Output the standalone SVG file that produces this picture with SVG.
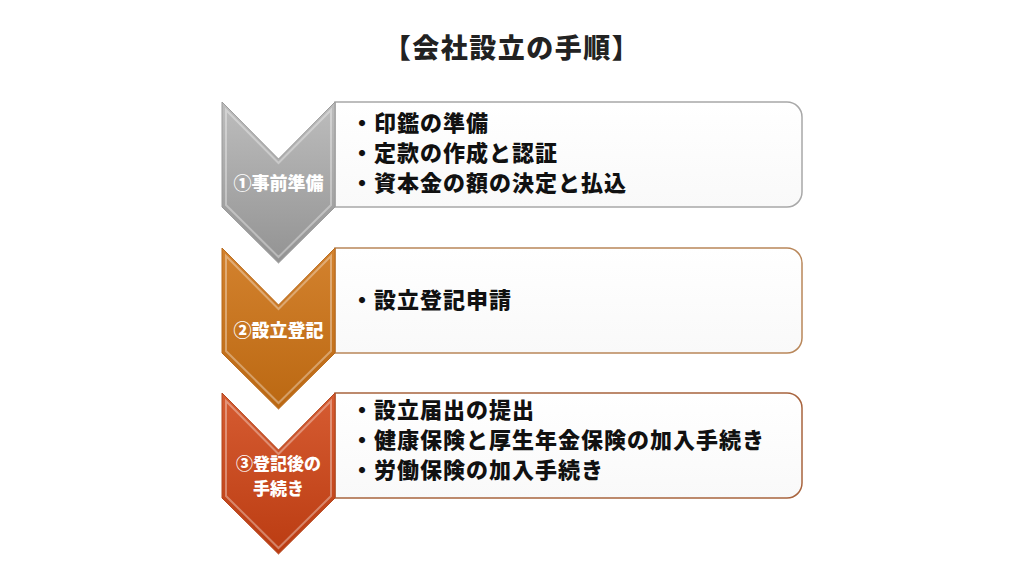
<svg xmlns="http://www.w3.org/2000/svg" width="1024" height="576" viewBox="0 0 1024 576">
  <defs>
    <linearGradient id="gGray" x1="0" y1="0" x2="0" y2="1">
      <stop offset="0" stop-color="#bdbdbd"/>
      <stop offset="1" stop-color="#939393"/>
    </linearGradient>
    <linearGradient id="gOrange" x1="0" y1="0" x2="0" y2="1">
      <stop offset="0" stop-color="#d3822e"/>
      <stop offset="1" stop-color="#bb6812"/>
    </linearGradient>
    <linearGradient id="gRed" x1="0" y1="0" x2="0" y2="1">
      <stop offset="0" stop-color="#d65c32"/>
      <stop offset="1" stop-color="#bb3c12"/>
    </linearGradient>
    <linearGradient id="gBox" x1="0" y1="0" x2="0" y2="1">
      <stop offset="0" stop-color="#ffffff"/>
      <stop offset="1" stop-color="#f9f9f9"/>
    </linearGradient>
  </defs>
  <style>
    .title { font-family: "Noto Sans CJK JP", "Noto Sans CJK SC", sans-serif; font-weight: 900; font-size: 27px; fill: #222; letter-spacing: 1.5px; }
    .item { font-family: "Noto Sans CJK JP", "Noto Sans CJK SC", sans-serif; font-weight: 900; font-size: 22px; fill: #111; letter-spacing: 1px; }
    .lbl { font-family: "Noto Sans CJK JP", "Noto Sans CJK SC", sans-serif; font-weight: 900; font-size: 18px; fill: #ffffff; text-anchor: middle; }
    .lbl2 { font-size: 17px; }
    .box { fill: url(#gBox); stroke-width: 1.5; }
    .bevel { fill: none; stroke: #ffffff; stroke-opacity: 0.35; stroke-width: 2; }
  </style>
  <rect width="1024" height="576" fill="#ffffff"/>
  <text class="title" x="512" y="58" text-anchor="middle">【会社設立の手順】</text>

  <g id="step1">
    <path class="box" stroke="#a8a8a8" d="M335,102 H787 A15,15 0 0 1 802,117 V192 A15,15 0 0 1 787,207 H335 Z"/>
    <polygon points="222,102 278.5,159 335,102 335,207 278.5,263 222,207" fill="url(#gGray)" stroke="#9a9a9a" stroke-width="1"/>
    <polygon class="bevel" points="226,110 278.5,163 331,110 331,205 278.5,257 226,205"/>
    <text class="lbl" x="278.5" y="190">①事前準備</text>
    <text class="item" x="351" y="131">・印鑑の準備</text>
    <text class="item" x="351" y="161">・定款の作成と認証</text>
    <text class="item" x="351" y="191">・資本金の額の決定と払込</text>
  </g>

  <g id="step2">
    <path class="box" stroke="#b9875a" d="M335,248 H787 A15,15 0 0 1 802,263 V338 A15,15 0 0 1 787,353 H335 Z"/>
    <polygon points="222,248 278.5,305 335,248 335,353 278.5,409 222,353" fill="url(#gOrange)" stroke="#b86a1c" stroke-width="1"/>
    <polygon class="bevel" points="226,256 278.5,309 331,256 331,351 278.5,403 226,351"/>
    <text class="lbl" x="278.5" y="337">②設立登記</text>
    <text class="item" x="351" y="308">・設立登記申請</text>
  </g>

  <g id="step3">
    <path class="box" stroke="#a8643e" d="M335,393 H787 A15,15 0 0 1 802,408 V483 A15,15 0 0 1 787,498 H335 Z"/>
    <polygon points="222,393 278.5,450 335,393 335,498 278.5,554 222,498" fill="url(#gRed)" stroke="#b3461e" stroke-width="1"/>
    <polygon class="bevel" points="226,401 278.5,454 331,401 331,496 278.5,548 226,496"/>
    <text class="lbl lbl2" x="278.5" y="470">③登記後の</text>
    <text class="lbl lbl2" x="278.5" y="495">手続き</text>
    <text class="item" x="351" y="418">・設立届出の提出</text>
    <text class="item" x="351" y="448">・健康保険と厚生年金保険の加入手続き</text>
    <text class="item" x="351" y="478">・労働保険の加入手続き</text>
  </g>

  <g id="connectors"></g>
</svg>
